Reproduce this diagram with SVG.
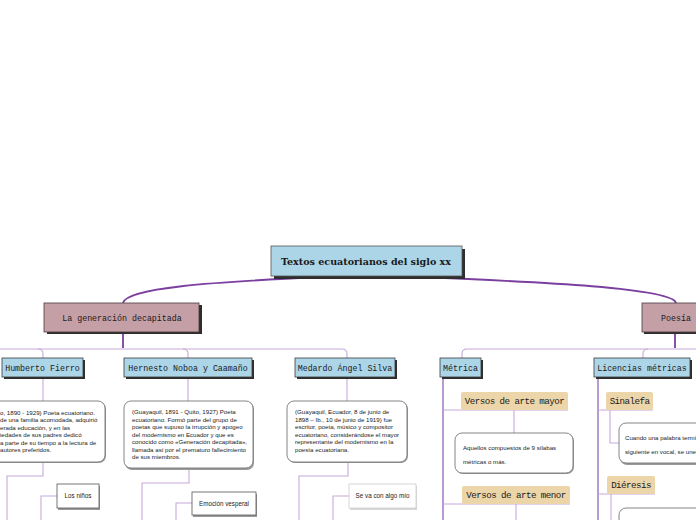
<svg xmlns="http://www.w3.org/2000/svg" width="696" height="520" viewBox="0 0 696 520">
<style>
.lbl{font-family:"Liberation Mono","DejaVu Sans Mono",monospace;font-size:8.3px;fill:#1a1a1a;text-anchor:middle}
.tl{font-size:9.2px;letter-spacing:-0.55px}
.ttl{font-family:"DejaVu Serif","Liberation Serif",serif;font-weight:bold;font-size:9.5px;fill:#1a1a1a;text-anchor:middle}
.desc{font-family:"Liberation Sans",Arial,sans-serif;font-size:6.15px;fill:#222}
.leaf{font-family:"Liberation Sans",Arial,sans-serif;font-size:6.3px;fill:#222;text-anchor:middle}
.blue{fill:#acd5e8;stroke:#3a3a3a;stroke-width:0.8}
.pink{fill:#c59fa6;stroke:#4a3a3c;stroke-width:0.8}
.tan{fill:#ebd5a9}
.shd{fill:#2e2e2e}
.dbox{fill:#fff;stroke:#777;stroke-width:0.9}
.dshd{fill:#9a9a9a}
.main{fill:none;stroke:#7b3fa0;stroke-width:1.8}
.mid{fill:none;stroke:#9b6fc0;stroke-width:1.4}
.thin{fill:none;stroke:#c6a9da;stroke-width:1.1}
</style>
<g id="connectors">
<path class="main" d="M322 277 C210 282 126 288 123 303"/>
<path class="main" d="M420 277 C540 282 673 288 676 303"/>
<path class="main" d="M123 333 L123 348"/>
<path class="thin" d="M0 349 L342 349 Q347 349 347 354 L347 358"/>
<path class="thin" d="M38 349 Q43 349 43 354 L43 358"/>
<path class="thin" d="M183 349 Q188 349 188 354 L188 358"/>
<path class="thin" d="M43 377 L43 401"/>
<path class="thin" d="M188 377 L188 401"/>
<path class="thin" d="M347 377 L347 401"/>
<path class="thin" d="M43 462 L43 476 L7 476 L7 520"/>
<path class="thin" d="M57 496 L41 496 L41 520"/>
<path class="thin" d="M189 469 L189 483 L142 483 L142 520"/>
<path class="thin" d="M192 503 L176 503 L176 520"/>
<path class="thin" d="M348 462 L348 476 L299 476 L299 520"/>
<path class="thin" d="M349 496 L333 496 L333 520"/>
<path class="main" d="M675 333 L675 348"/>
<path class="thin" d="M696 349 L467 349 Q462 349 462 354 L462 358"/>
<path class="thin" d="M648 349 Q643 349 643 354 L643 358"/>
<path class="mid" d="M443 377 L443 520"/>
<path class="thin" d="M443 410 L568 410"/>
<path class="thin" d="M514 410 L514 433"/>
<path class="thin" d="M443 504 L570 504"/>
<path class="thin" d="M516 504 L516 520"/>
<path class="mid" d="M598 377 L598 520"/>
<path class="thin" d="M598 410 L653 410"/>
<path class="thin" d="M610 410 L610 443 L619 443"/>
<path class="thin" d="M598 494 L655 494"/>
<path class="thin" d="M611 494 L611 520"/>
</g>
<g id="title">
<rect class="shd" x="274" y="249" width="191" height="30"/>
<rect x="271" y="246" width="191" height="30" fill="#acd5e8" stroke="#555" stroke-width="0.8"/>
<text class="ttl" x="366" y="264.5" textLength="170" lengthAdjust="spacingAndGlyphs">Textos ecuatorianos del siglo xx</text>
</g>
<g id="generacion">
<rect class="shd" x="47" y="305" width="155" height="29"/>
<rect class="pink" x="44" y="303" width="155" height="29"/>
<text class="lbl" x="122" y="320.5">La generación decapitada</text>
</g>
<g id="poesia">
<rect class="shd" x="644" y="305" width="60" height="29"/>
<rect class="pink" x="642" y="303" width="60" height="29"/>
<text class="lbl" x="676" y="320.5">Poesía</text>
</g>
<g id="humberto">
<rect class="shd" x="4" y="360" width="81" height="19"/>
<rect class="blue" x="2" y="358" width="81" height="19"/>
<text class="lbl" x="42.5" y="370.5">Humberto Fierro</text>
</g>
<g id="hernesto">
<rect class="shd" x="126" y="360" width="128" height="19"/>
<rect class="blue" x="124" y="358" width="128" height="19"/>
<text class="lbl" x="188" y="370.5">Hernesto Noboa y Caamaño</text>
</g>
<g id="medardo">
<rect class="shd" x="297" y="360" width="100" height="19"/>
<rect class="blue" x="295" y="358" width="100" height="19"/>
<text class="lbl" x="345" y="370.5">Medardo Ángel Silva</text>
</g>
<g id="humberto-desc">
<rect class="dshd" x="-60" y="402" width="166" height="61" rx="7"/>
<rect class="dbox" x="-60" y="401" width="165" height="61" rx="7"/>
<text class="desc" x="0" y="414.5">o, 1890 - 1929) Poeta ecuatoriano.</text>
<text class="desc" x="0" y="422">de una familia acomodada, adquirió</text>
<text class="desc" x="0" y="429.5">erada educación, y en las</text>
<text class="desc" x="0" y="437">iedades de sus padres dedicó</text>
<text class="desc" x="0" y="444.5">a parte de su tiempo a la lectura de</text>
<text class="desc" x="0" y="452">autores preferidos.</text>
</g>
<g id="hernesto-desc">
<rect class="dshd" x="125" y="402" width="129" height="68" rx="7"/>
<rect class="dbox" x="124" y="401" width="129" height="67" rx="7"/>
<text class="desc" x="132" y="414">(Guayaquil, 1891 - Quito, 1927) Poeta</text>
<text class="desc" x="132" y="421.5">ecuatoriano. Formó parte del grupo de</text>
<text class="desc" x="132" y="429">poetas que supuso la irrupción y apogeo</text>
<text class="desc" x="132" y="436.5">del modernismo en Ecuador y que es</text>
<text class="desc" x="132" y="444">conocido como «Generación decapitada»,</text>
<text class="desc" x="132" y="451.5">llamada así por el prematuro fallecimiento</text>
<text class="desc" x="132" y="459">de sus miembros.</text>
</g>
<g id="medardo-desc">
<rect class="dshd" x="288" y="402" width="120" height="61" rx="7"/>
<rect class="dbox" x="287" y="401" width="120" height="61" rx="7"/>
<text class="desc" x="295" y="414">(Guayaquil, Ecuador, 8 de junio de</text>
<text class="desc" x="295" y="421.5">1898 – Ib., 10 de junio de 1919) fue</text>
<text class="desc" x="295" y="429">escritor, poeta, músico y compositor</text>
<text class="desc" x="295" y="436.5">ecuatoriano, considerándose el mayor</text>
<text class="desc" x="295" y="444">representante del modernismo en la</text>
<text class="desc" x="295" y="451.5">poesía ecuatoriana.</text>
</g>
<g id="los-ninos">
<rect class="dshd" x="58" y="486" width="42" height="24"/>
<rect x="57" y="484" width="42" height="24" fill="#fff" stroke="#555" stroke-width="0.8"/>
<text class="leaf" x="78" y="498">Los niños</text>
</g>
<g id="emocion">
<rect class="dshd" x="193" y="494" width="64" height="23"/>
<rect x="192" y="492" width="64" height="23" fill="#fff" stroke="#555" stroke-width="0.8"/>
<text class="leaf" x="224" y="505.5">Emoción vesperal</text>
</g>
<g id="se-va">
<rect x="350" y="486" width="67" height="24" fill="#d8d8d8"/>
<rect x="349" y="484" width="67" height="24" fill="#fff" stroke="#ccc" stroke-width="0.8"/>
<text class="leaf" x="382.5" y="498">Se va con algo mío</text>
</g>
<g id="metrica">
<rect class="shd" x="442" y="360" width="41" height="19"/>
<rect class="blue" x="440" y="358" width="41" height="19"/>
<text class="lbl" x="460.5" y="370.5">Métrica</text>
</g>
<g id="licencias">
<rect class="shd" x="596" y="360" width="96" height="19"/>
<rect class="blue" x="594" y="358" width="96" height="19"/>
<text class="lbl" x="642" y="370.5">Licencias métricas</text>
</g>
<g id="arte-mayor">
<rect class="tan" x="461" y="392" width="107" height="18" rx="2"/>
<text class="lbl tl" x="514.5" y="404">Versos de arte mayor</text>
</g>
<g id="arte-mayor-desc">
<rect class="dshd" x="456" y="434" width="118" height="40" rx="7"/>
<rect class="dbox" x="455" y="433" width="118" height="40" rx="7"/>
<text class="desc" x="463" y="449.5">Aquellos compuestos de 9 sílabas</text>
<text class="desc" x="463" y="463.5">métricas o más.</text>
</g>
<g id="arte-menor">
<rect class="tan" x="462" y="486" width="108" height="18" rx="2"/>
<text class="lbl tl" x="516" y="498">Versos de arte menor</text>
</g>
<g id="sinalefa">
<rect class="tan" x="606" y="392" width="47" height="18" rx="2"/>
<text class="lbl tl" x="629.5" y="404">Sinalefa</text>
</g>
<g id="sinalefa-desc">
<rect class="dshd" x="620" y="424" width="90" height="41" rx="7"/>
<rect class="dbox" x="619" y="423" width="90" height="40" rx="7"/>
<text class="desc" x="625" y="440">Cuando una palabra termi</text>
<text class="desc" x="625" y="454">siguiente en vocal, se une</text>
</g>
<g id="dieresis">
<rect class="tan" x="607" y="476" width="48" height="18" rx="2"/>
<text class="lbl tl" x="631" y="488">Diéresis</text>
</g>
<g id="dieresis-desc">
<rect class="dshd" x="620" y="509" width="90" height="30" rx="7"/>
<rect class="dbox" x="619" y="508" width="90" height="30" rx="7"/>
</g>
</svg>
